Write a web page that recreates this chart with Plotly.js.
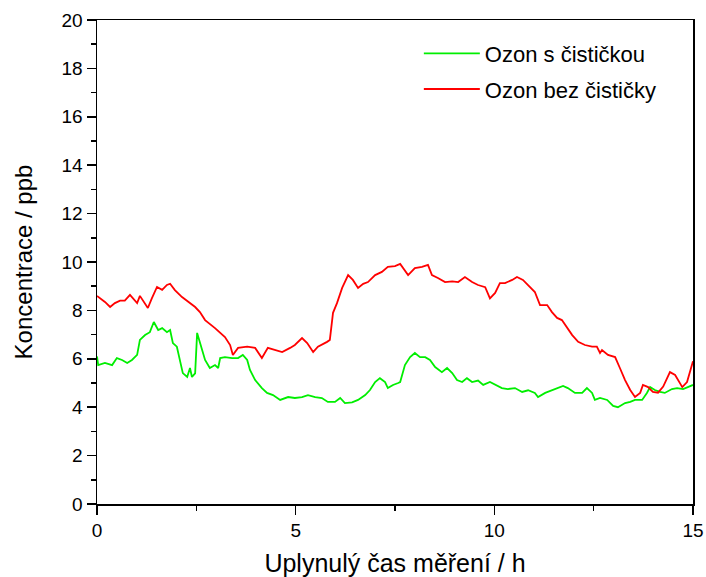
<!DOCTYPE html>
<html>
<head>
<meta charset="utf-8">
<script src="https://cdn.plot.ly/plotly-3.0.1.min.js"></script>
<style>html,body{margin:0;padding:0;background:#fff;}#chart{width:706px;height:577px;}</style>
</head>
<body>
<div id="chart"></div>
<script>
// Ozon s čističkou (green)
const greenX = [0.00,0.03,0.20,0.38,0.50,0.63,0.76,0.88,1.01,1.08,1.21,1.33,1.43,1.54,1.64,1.76,1.84,1.91,2.01,2.09,2.16,2.27,2.34,2.39,2.47,2.52,2.59,2.72,2.84,2.97,3.05,3.10,3.22,3.40,3.55,3.67,3.78,3.85,3.98,4.15,4.28,4.43,4.61,4.81,4.98,5.16,5.31,5.49,5.66,5.81,5.99,6.12,6.24,6.42,6.57,6.75,6.87,7.00,7.12,7.25,7.32,7.45,7.58,7.63,7.75,7.88,8.00,8.13,8.26,8.38,8.51,8.68,8.81,8.94,9.06,9.19,9.31,9.44,9.59,9.72,9.89,10.02,10.19,10.34,10.52,10.70,10.85,11.02,11.10,11.28,11.45,11.60,11.73,11.85,12.03,12.21,12.33,12.46,12.53,12.66,12.84,12.99,13.11,13.29,13.42,13.54,13.72,13.84,13.92,14.04,14.17,14.29,14.47,14.60,14.75,14.87,15.00];
const greenY = [6.1,5.74,5.83,5.74,6.03,5.95,5.83,5.95,6.16,6.78,6.98,7.1,7.52,7.19,7.27,7.1,7.19,6.65,6.5,5.95,5.41,5.25,5.62,5.25,5.4,7.07,6.7,5.95,5.62,5.74,5.62,6.03,6.07,6.03,6.03,6.16,5.95,5.54,5.12,4.79,4.59,4.5,4.3,4.42,4.38,4.42,4.5,4.42,4.38,4.22,4.22,4.38,4.17,4.2,4.3,4.5,4.71,5.04,5.2,5.04,4.79,4.92,5.0,5.04,5.74,6.07,6.24,6.07,6.07,5.95,5.66,5.45,5.62,5.41,5.12,5.04,5.2,5.04,5.1,4.92,5.04,4.92,4.79,4.75,4.79,4.63,4.7,4.59,4.42,4.59,4.71,4.79,4.88,4.79,4.59,4.59,4.79,4.59,4.3,4.38,4.3,4.05,4.0,4.17,4.22,4.3,4.3,4.59,4.83,4.71,4.63,4.59,4.75,4.79,4.75,4.83,4.92];
// Ozon bez čističky (red)
const redX = [0.00,0.20,0.33,0.45,0.58,0.70,0.83,0.91,1.01,1.08,1.16,1.28,1.38,1.51,1.64,1.76,1.84,1.96,2.14,2.29,2.47,2.59,2.72,2.97,3.22,3.35,3.42,3.55,3.78,3.98,4.15,4.30,4.48,4.66,4.86,4.98,5.16,5.29,5.44,5.56,5.79,5.86,5.94,6.04,6.17,6.32,6.44,6.57,6.70,6.82,7.00,7.17,7.32,7.50,7.63,7.83,8.00,8.18,8.33,8.43,8.58,8.76,8.94,9.09,9.26,9.44,9.59,9.77,9.89,10.02,10.14,10.27,10.45,10.57,10.72,10.85,11.02,11.15,11.33,11.45,11.58,11.70,11.83,11.96,12.11,12.28,12.46,12.58,12.66,12.71,12.86,13.04,13.16,13.29,13.42,13.54,13.67,13.74,13.87,13.99,14.12,14.25,14.42,14.55,14.73,14.85,15.00];
const redY = [8.6,8.35,8.14,8.3,8.4,8.4,8.64,8.5,8.3,8.6,8.4,8.1,8.5,8.97,8.85,9.05,9.1,8.84,8.55,8.35,8.14,7.93,7.6,7.27,6.9,6.57,6.16,6.45,6.5,6.45,6.03,6.45,6.36,6.28,6.45,6.57,6.86,6.65,6.28,6.5,6.7,6.78,7.9,8.3,8.93,9.46,9.26,8.93,9.1,9.17,9.46,9.59,9.8,9.83,9.92,9.46,9.75,9.8,9.88,9.46,9.34,9.17,9.2,9.17,9.38,9.17,9.05,8.96,8.5,8.72,9.13,9.13,9.26,9.38,9.26,9.05,8.76,8.22,8.22,7.93,7.69,7.6,7.27,6.98,6.7,6.57,6.5,6.5,6.24,6.36,6.16,6.07,5.62,5.12,4.71,4.42,4.59,4.92,4.83,4.63,4.6,4.85,5.45,5.33,4.83,5.04,5.9];

const xTicks = [0,5,10,15];
const yTicks = [0,2,4,6,8,10,12,14,16,18,20];

const FONT = 'Liberation Sans, Arial, sans-serif';

const traces = [
  {x: greenX, y: greenY, type: 'scatter', mode: 'lines', name: 'Ozon s čističkou',
   legendgroup: 'g', line: {color: '#00ee00', width: 1.8}},
  {x: redX, y: redY, type: 'scatter', mode: 'lines', name: 'Ozon bez čističky',
   legendgroup: 'r', line: {color: '#ff0000', width: 1.8}}
];

const axisCommon = {
  showgrid: false, zeroline: false, showline: true, linecolor: '#000', linewidth: 1.5,
  mirror: true, ticks: 'outside', ticklen: 9, tickwidth: 1.5, tickcolor: '#000',
  tickfont: {family: FONT, size: 19, color: '#000'}
};

const layout = {
  width: 706, height: 577,
  margin: {l: 97, r: 13, t: 20, b: 73},
  paper_bgcolor: '#fff', plot_bgcolor: '#fff',
  showlegend: true,
  legend: {x: 0.54, y: 0.974, xanchor: 'left', yanchor: 'top', bgcolor: 'rgba(0,0,0,0)',
    itemwidth: 56, traceorder: 'grouped', tracegroupgap: 4,
    font: {family: FONT, size: 22, color: '#000'}},
  xaxis: Object.assign({}, axisCommon, {
    range: [0, 15], tickvals: xTicks, ticktext: xTicks.map(String),
    minor: {dtick: 2.5, tick0: 0, ticks: 'outside', ticklen: 5, tickwidth: 1.5, tickcolor: '#000'},
    title: {text: 'Uplynulý čas měření / h', standoff: 22,
      font: {family: FONT, size: 25, color: '#000'}}
  }),
  yaxis: Object.assign({}, axisCommon, {
    range: [0, 20], tickvals: yTicks, ticktext: yTicks.map(String),
    minor: {dtick: 1, tick0: 0, ticks: 'outside', ticklen: 5, tickwidth: 1.5, tickcolor: '#000'},
    title: {text: 'Koncentrace / ppb', standoff: 22,
      font: {family: FONT, size: 24, color: '#000'}}
  })
};

Plotly.newPlot('chart', traces, layout, {displayModeBar: false, staticPlot: true});
</script>
</body>
</html>
